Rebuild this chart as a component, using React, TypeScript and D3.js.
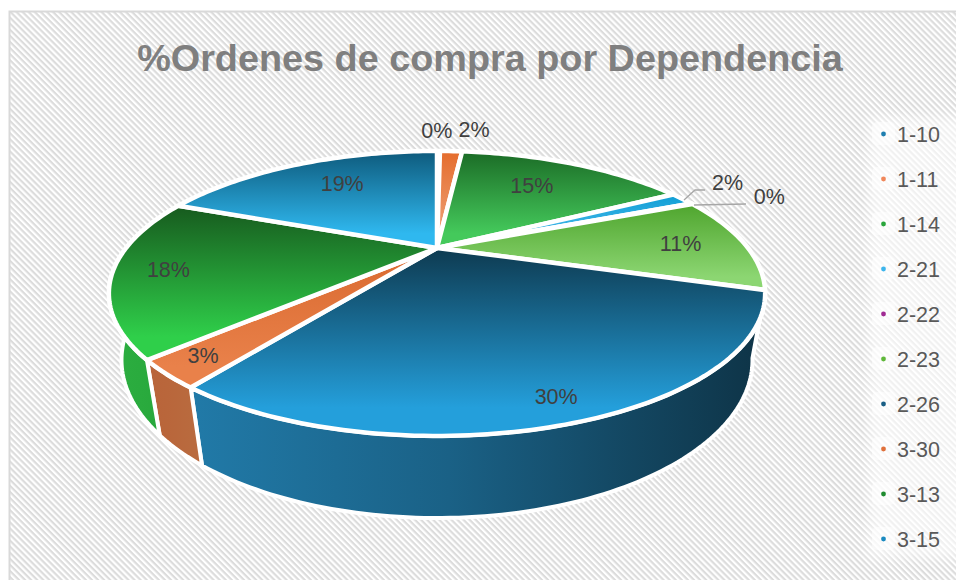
import React from 'react'
import * as d3 from 'd3'

const categories = ['1-10', '1-11', '1-14', '2-21', '2-22', '2-23', '2-26', '3-30', '3-13', '3-15']
const shares = [0.2, 1.5, 15.3, 1.6, 0.1, 11.1, 30.2, 3.0, 18.0, 19.0]

// slice colours: [dark end, light end] of the top face, wall colours left to right, legend dot
const topDark = ['#156082', '#e56c2c', '#1b6b26', '#0f9ed5', '#a02b93', '#4fa52e', '#0e3a50', '#d9692f', '#175a1e', '#0e5a7c']
const topLight = ['#2a9fd8', '#eda077', '#44c95b', '#4dbcec', '#c05ab5', '#8cd672', '#249fdb', '#e9814a', '#2fcf4a', '#2fb8ef']
const wallLeft = ['#156082', '#b9643a', '#2a7c35', '#0f9ed5', '#a02b93', '#4fa52e', '#217aa8', '#b9643a', '#2cae40', '#0e5a7c']
const wallRight = ['#156082', '#b9643a', '#2a7c35', '#0f9ed5', '#a02b93', '#4fa52e', '#0e3346', '#b96a3e', '#26a63a', '#0e5a7c']
const legendDots = ['#1f7fb0', '#f0875a', '#2aa63c', '#3db5ec', '#a02b93', '#5fb83a', '#1a5f85', '#e0703a', '#1f8c30', '#1a8ac0']

// label placement: radius on the disc plus a nudge in pixels
const labelRadius = [1.29, 1.29, 0.7, 1.2, 1.2, 0.8, 0.9, 0.9, 0.85, 0.68]
const labelNudge = [[-2, 0], [20, -1], [-7, 1], [3, -7], [33, 1], [-2, 1], [-2, -1], [2, -2], [5, 1], [6, -3]]
const leaders = [
  { slice: 3, points: [[684, 200], [695, 190], [705, 190]] },
  { slice: 4, points: [[694, 205], [746, 204]] }
]

const width = 956
const height = 580
const cx = 437
const cy = 248

// perspective of the tilted disc, fitted to the picture
const R = 311
const k = 0.319
const b = 128
const depthM = 0.036
const depthC = 65.6

const project = (angle: number, r: number, low: boolean): [number, number] => {
  const u = Math.sin(angle) * r
  const v = Math.cos(angle) * r
  const den = 1 + k * v + (low ? depthM : 0)
  return [cx + (R * u) / den, cy + (-b * v + (low ? depthC : 0)) / den]
}

const arcPoints = (a0: number, a1: number, low: boolean) => {
  const n = Math.max(2, Math.ceil((a1 - a0) / 0.02))
  return d3.range(n + 1).map(i => project(a0 + ((a1 - a0) * i) / n, 1, low))
}

export default function App () {
  const slices = d3.pie<number>().sort(null)(shares)
  const total = d3.sum(shares)
  const line = d3.line()
  const legendY = d3.scaleLinear().domain([0, categories.length - 1]).range([134, 539])

  // walls only on the slices reaching the front half, back to front
  const walls = slices
    .map((s, i) => ({ s, i }))
    .filter(({ s }) => s.endAngle > Math.PI / 2 && s.startAngle < (3 * Math.PI) / 2 && s.endAngle - s.startAngle > 0.02)

  return (
    <svg width={width} height={height} style={{ position: 'absolute', left: 0, top: 0, fontFamily: '"Liberation Sans", sans-serif' }}>
      <defs>
        <pattern id='hatch' width={4.3} height={4.3} patternUnits='userSpaceOnUse' patternTransform='rotate(45)'>
          <rect width={4.3} height={4.3} fill='#ffffff' />
          <rect width={4.3} height={2.15} fill='#dcdcdc' />
        </pattern>
        <filter id='soft' x='-20%' y='-20%' width='140%' height='140%'>
          <feGaussianBlur stdDeviation={6} />
        </filter>
        {slices.map((s, i) => {
          const pts = [[cx, cy], ...arcPoints(s.startAngle, s.endAngle, false)]
          const ys = pts.map(p => p[1])
          return (
            <linearGradient key={i} id={`top${i}`} gradientUnits='userSpaceOnUse' x1={0} x2={0} y1={d3.min(ys)} y2={d3.max(ys)}>
              <stop offset='0%' stopColor={topDark[i]} />
              <stop offset='85%' stopColor={topLight[i]} />
            </linearGradient>
          )
        })}
        {walls.map(({ s, i }) => {
          const xs = arcPoints(s.startAngle, s.endAngle, false).map(p => p[0])
          const left = d3.min(xs)
          const right = d3.max(xs)
          return (
            <linearGradient key={i} id={`wall${i}`} gradientUnits='userSpaceOnUse' x1={left} x2={right} y1={0} y2={0}>
              <stop offset='0%' stopColor={wallLeft[i]} />
              <stop offset='45%' stopColor={d3.interpolateRgb(wallLeft[i], wallRight[i])(0.35)} />
              <stop offset='100%' stopColor={wallRight[i]} />
            </linearGradient>
          )
        })}
      </defs>

      <rect x={0} y={0} width={width} height={height} fill='#ffffff' />
      <rect x={9.5} y={11.5} width={width} height={height} fill='url(#hatch)' stroke='#d9d9d9' strokeWidth={2} />

      <rect x={868} y={118} width={100} height={440} fill='#ffffff' opacity={0.6} filter='url(#soft)' />

      <text x={490} y={71} textAnchor='middle' fontSize={37.8} fontWeight={700} fill='#7f7f7f'>%Ordenes de compra por Dependencia</text>

      {/* side walls */}
      <g stroke='#ffffff' strokeWidth={4} strokeLinejoin='round'>
        {walls.map(({ s, i }) => {
          const upper = arcPoints(s.startAngle, s.endAngle, false)
          const lower = arcPoints(s.startAngle, s.endAngle, true).reverse()
          return <path key={i} d={line([...upper, ...lower]) + 'Z'} fill={`url(#wall${i})`} />
        })}
      </g>

      {/* top faces */}
      <g stroke='#ffffff' strokeWidth={4.5} strokeLinejoin='round'>
        {slices.map((s, i) => (
          <path key={i} d={line([[cx, cy], ...arcPoints(s.startAngle, s.endAngle, false)]) + 'Z'} fill={`url(#top${i})`} />
        ))}
      </g>

      {leaders.map(l => (
        <path key={l.slice} d={line(l.points as [number, number][]) ?? ''} fill='none' stroke='#a6a6a6' strokeWidth={1.3} />
      ))}

      <g fontSize={21.5} fill='#404040' textAnchor='middle'>
        {slices.map((s, i) => {
          const [x, y] = project((s.startAngle + s.endAngle) / 2, labelRadius[i], false)
          return (
            <text key={i} x={x + labelNudge[i][0]} y={y + labelNudge[i][1] + 7}>
              {Math.round((shares[i] / total) * 100)}%
            </text>
          )
        })}
      </g>

      {categories.map((c, i) => (
        <g key={c} transform={`translate(0,${legendY(i)})`}>
          <rect x={872} y={-12} width={23} height={23} rx={5} fill='#ffffff' opacity={0.5} />
          <circle cx={883.5} cy={0} r={2.4} fill={legendDots[i]} />
          <text x={897} y={7.5} fontSize={21.5} fill='#595959'>{c}</text>
        </g>
      ))}
    </svg>
  )
}
